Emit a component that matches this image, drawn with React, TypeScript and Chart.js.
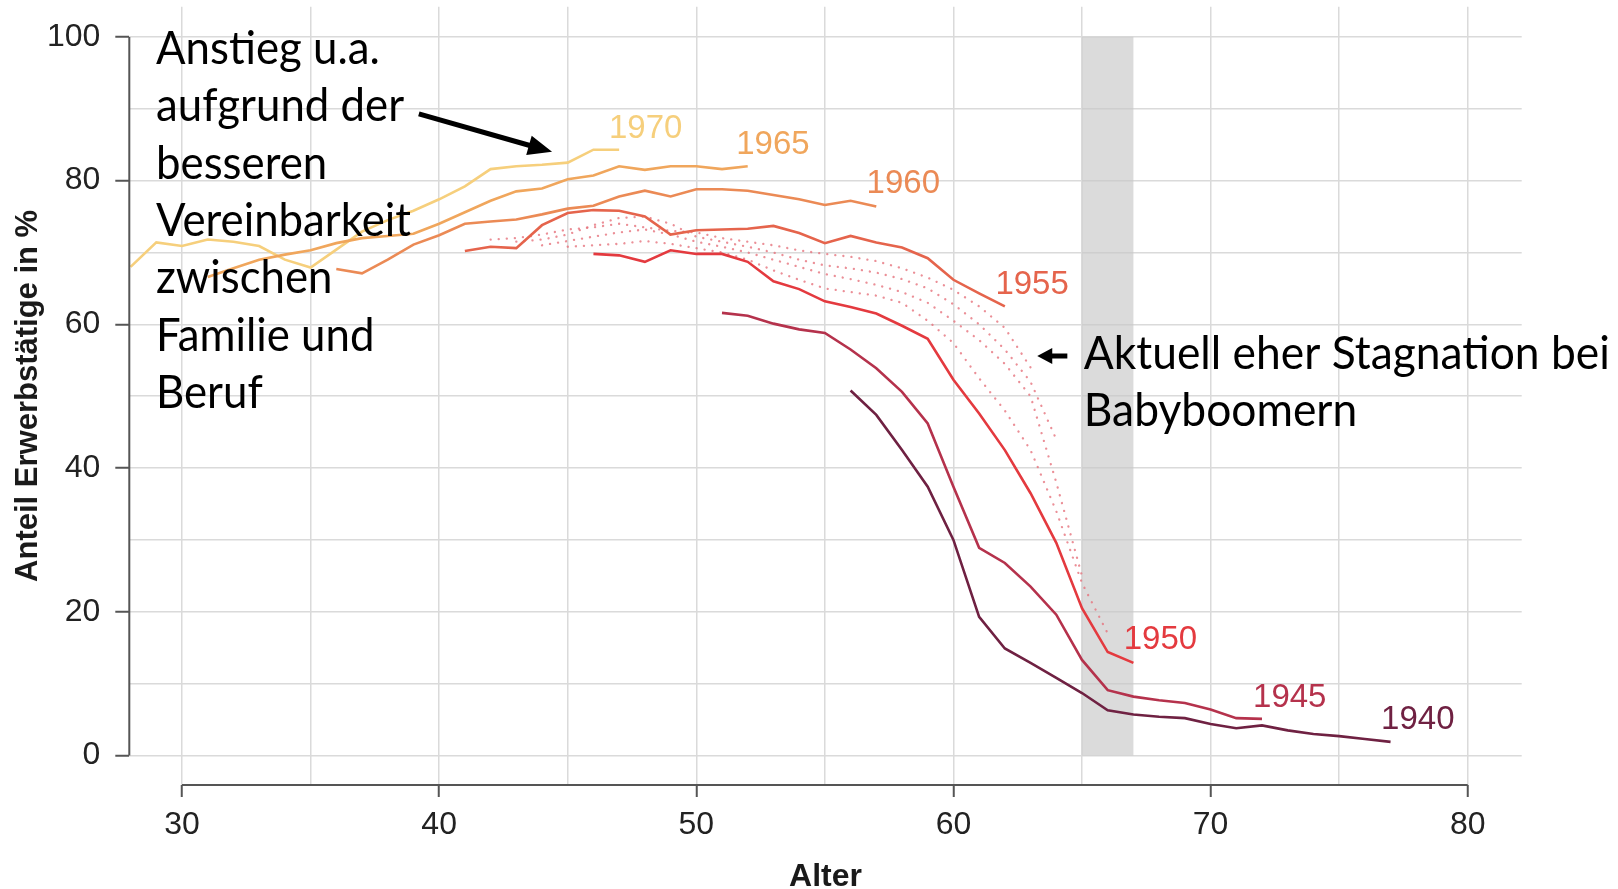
import React, { useEffect, useRef } from "react";
import { Chart, registerables } from "chart.js";

Chart.register(...registerables);

// ---- Daten: Anteil Erwerbstätige in % nach Alter, je Geburtsjahrgang ----
const startAge1940 = 56;
const values1940 = [50.8, 47.4, 42.5, 37.4, 30.0, 19.3, 14.9, 12.9, 10.8, 8.7, 6.3, 5.7, 5.4, 5.2, 4.4, 3.8, 4.2, 3.5, 3.0, 2.7, 2.3, 1.9];
const startAge1945 = 51;
const values1945 = [61.6, 61.2, 60.1, 59.3, 58.8, 56.5, 53.9, 50.6, 46.2, 37.4, 28.9, 26.8, 23.5, 19.6, 13.3, 9.1, 8.2, 7.7, 7.3, 6.4, 5.2, 5.1];
const startAge1950 = 46;
const values1950 = [69.8, 69.6, 68.7, 70.3, 69.8, 69.8, 68.7, 66.0, 64.9, 63.2, 62.4, 61.5, 59.8, 58.0, 52.3, 47.6, 42.5, 36.5, 29.6, 20.5, 14.4, 12.9];
const startAge1951 = 45;
const values1951 = [70.8, 71.0, 71.2, 71.6, 71.2, 70.6, 70.0, 69.0, 67.5, 66.2, 65.0, 64.5, 64.0, 63.0, 60.5, 57.4, 52.5, 48.0, 42.5, 34.0, 24.0, 17.0];
const startAge1952 = 44;
const values1952 = [71.0, 71.6, 72.2, 72.8, 73.2, 72.5, 71.5, 70.8, 70.0, 69.0, 68.0, 67.0, 66.3, 65.5, 64.5, 63.0, 60.5, 57.8, 54.5, 50.0, 38.0, 25.0];
const startAge1953 = 43;
const values1953 = [71.5, 71.8, 72.5, 73.8, 74.8, 75.0, 74.0, 72.2, 71.5, 70.8, 70.0, 69.0, 68.2, 67.8, 67.2, 66.3, 65.0, 62.8, 60.0, 56.5, 52.0, 44.0];
const startAge1954 = 42;
const values1954 = [71.8, 72.0, 72.5, 73.2, 73.5, 74.0, 73.5, 73.0, 72.8, 72.0, 71.5, 71.0, 70.3, 69.8, 69.4, 68.8, 67.8, 66.5, 64.8, 62.5, 59.5, 54.0];
const startAge1955 = 41;
const values1955 = [70.2, 70.8, 70.6, 73.8, 75.5, 75.9, 75.8, 75.0, 72.5, 73.1, 73.2, 73.3, 73.7, 72.7, 71.3, 72.3, 71.4, 70.7, 69.2, 66.2, 64.3, 62.5];
const startAge1960 = 36;
const values1960 = [67.7, 67.1, 69.0, 71.1, 72.4, 74.0, 74.3, 74.6, 75.3, 76.1, 76.5, 77.8, 78.6, 77.8, 78.8, 78.8, 78.6, 78.0, 77.4, 76.6, 77.2, 76.4];
const startAge1965 = 31;
const values1965 = [66.6, 67.8, 69.0, 69.7, 70.3, 71.3, 72.0, 72.3, 72.6, 74.0, 75.6, 77.2, 78.5, 78.9, 80.2, 80.7, 82.0, 81.5, 82.0, 82.0, 81.6, 82.0];
const startAge1970 = 28;
const values1970 = [68.0, 71.4, 70.9, 71.8, 71.5, 70.9, 69.0, 67.9, 70.4, 72.9, 74.5, 75.8, 77.4, 79.2, 81.6, 82.0, 82.2, 82.5, 84.3, 84.3];

// Achsen
const xGridValues = [30, 35, 40, 45, 50, 55, 60, 65, 70, 75, 80];
const xTickLabels = [30, 40, 50, 60, 70, 80];
const yGridValues = [0, 10, 20, 30, 40, 50, 60, 70, 80, 90, 100];
const yTickLabels = [0, 20, 40, 60, 80, 100];
const xTitle = "Alter";
const yTitle = "Anteil Erwerbstätige in %";

// Rentenalter-Band
const shadeFrom = 65;
const shadeTo = 67;

// Farben
const c1940 = "#6f2142";
const c1945 = "#b5324c";
const c1950 = "#e43a3f";
const c1955 = "#e5644c";
const c1960 = "#eb8a55";
const c1965 = "#f0a65c";
const c1970 = "#f6cf7c";
const cDotted = "rgba(230,115,125,0.8)";

// Beschriftungen der Linien (Datenkoordinaten der Textmitte)
const seriesLabels = [
  { text: "1970", x: 48.03, y: 87.6, color: c1970 },
  { text: "1965", x: 52.98, y: 85.3, color: c1965 },
  { text: "1960", x: 58.05, y: 79.9, color: c1960 },
  { text: "1955", x: 63.06, y: 65.8, color: c1955 },
  { text: "1950", x: 68.05, y: 16.4, color: c1950 },
  { text: "1945", x: 73.08, y: 8.4, color: c1945 },
  { text: "1940", x: 78.06, y: 5.3, color: c1940 },
];

const note1Lines = ["Anstieg u.a.", "aufgrund der", "besseren", "Vereinbarkeit", "zwischen", "Familie und", "Beruf"];
const note2Lines = ["Aktuell eher Stagnation bei", "Babyboomern"];

const TICK_FONT = "'Liberation Sans', Arial, Helvetica, sans-serif";
const NOTE_FONT = "Lato, 'Open Sans', sans-serif";
const gridColor = "#dadada";
const axisColor = "#555555";

function series(start: number, values: number[]) {
  return values.map((v, i) => ({ x: start + i, y: v }));
}

function solid(label: string, start: number, values: number[], color: string) {
  return {
    label,
    data: series(start, values),
    borderColor: color,
    borderWidth: 2.6,
    pointRadius: 0,
    fill: false,
    tension: 0,
  };
}

function dotted(label: string, start: number, values: number[]) {
  return {
    label,
    data: series(start, values),
    borderColor: cDotted,
    borderWidth: 2.3,
    borderDash: [0.1, 8],
    borderCapStyle: "round",
    pointRadius: 0,
    fill: false,
    tension: 0,
  };
}

function drawArrow(ctx: CanvasRenderingContext2D, x1: number, y1: number, x2: number, y2: number, shaftW: number, headLen: number, headHalf: number) {
  const ang = Math.atan2(y2 - y1, x2 - x1);
  const L = Math.hypot(x2 - x1, y2 - y1);
  ctx.save();
  ctx.translate(x2, y2);
  ctx.rotate(ang);
  ctx.beginPath();
  ctx.moveTo(0, 0);
  ctx.lineTo(-headLen, -headHalf);
  ctx.lineTo(-headLen, -shaftW / 2);
  ctx.lineTo(-L, -shaftW / 2);
  ctx.lineTo(-L, shaftW / 2);
  ctx.lineTo(-headLen, shaftW / 2);
  ctx.lineTo(-headLen, headHalf);
  ctx.closePath();
  ctx.fill();
  ctx.restore();
}

function drawNote(ctx: CanvasRenderingContext2D, lines: string[], x: number, y: number, step: number, size: number, refText: string, refWidth: number) {
  ctx.save();
  ctx.font = `${size}px ${NOTE_FONT}`;
  const w = ctx.measureText(refText).width;
  const sx = w > 0 ? refWidth / w : 1;
  ctx.fillStyle = "#000";
  ctx.textAlign = "left";
  ctx.textBaseline = "alphabetic";
  lines.forEach((t, i) => {
    ctx.save();
    ctx.translate(x, y + i * step);
    ctx.scale(sx, 1);
    ctx.fillText(t, 0, 0);
    ctx.restore();
  });
  ctx.restore();
}

const decorPlugin = {
  id: "decor",
  beforeDatasetsDraw(chart: any) {
    const { ctx, scales } = chart;
    const x = scales.x;
    const y = scales.y;
    ctx.save();
    ctx.fillStyle = "rgba(200,200,200,0.65)";
    const x1 = x.getPixelForValue(shadeFrom);
    const x2 = x.getPixelForValue(shadeTo);
    const y1 = y.getPixelForValue(100);
    const y2 = y.getPixelForValue(0);
    ctx.fillRect(x1, y1, x2 - x1, y2 - y1);
    ctx.restore();
  },
  afterDraw(chart: any) {
    const { ctx, scales, chartArea } = chart;
    const x = scales.x;
    const y = scales.y;
    ctx.save();
    // range-frame axis lines
    ctx.strokeStyle = axisColor;
    ctx.lineWidth = 2;
    ctx.beginPath();
    ctx.moveTo(chartArea.left, y.getPixelForValue(0));
    ctx.lineTo(chartArea.left, y.getPixelForValue(100));
    ctx.moveTo(x.getPixelForValue(30), chartArea.bottom);
    ctx.lineTo(x.getPixelForValue(80), chartArea.bottom);
    ctx.stroke();

    // axis titles
    ctx.fillStyle = "#1a1a1a";
    ctx.font = `bold 32px ${TICK_FONT}`;
    ctx.textAlign = "center";
    ctx.textBaseline = "middle";
    ctx.fillText(xTitle, (chartArea.left + chartArea.right) / 2, 877);
    ctx.font = `bold 31px ${TICK_FONT}`;
    ctx.save();
    ctx.translate(28, (chartArea.top + chartArea.bottom) / 2);
    ctx.rotate(-Math.PI / 2);
    ctx.fillText(yTitle, 0, 0);
    ctx.restore();

    // series labels
    ctx.font = `33px ${TICK_FONT}`;
    ctx.textAlign = "center";
    ctx.textBaseline = "alphabetic";
    seriesLabels.forEach((l) => {
      ctx.fillStyle = l.color;
      ctx.fillText(l.text, x.getPixelForValue(l.x), y.getPixelForValue(l.y) + 11.8);
    });

    // notes
    drawNote(ctx, note1Lines, x.getPixelForValue(28.99), y.getPixelForValue(96.2), 57.3, 46, "Vereinbarkeit", 255);
    drawNote(ctx, note2Lines, x.getPixelForValue(65.07), y.getPixelForValue(53.75), 56.6, 46, "Aktuell eher Stagnation bei", 526);

    // arrows
    ctx.fillStyle = "#000";
    drawArrow(ctx, x.getPixelForValue(39.21), y.getPixelForValue(89.3), x.getPixelForValue(44.39), y.getPixelForValue(84.0), 5, 24, 10);
    drawArrow(ctx, x.getPixelForValue(64.43), y.getPixelForValue(55.6), x.getPixelForValue(63.26), y.getPixelForValue(55.6), 5, 15, 8);
    ctx.restore();
  },
};

export default function App() {
  const ref = useRef<HTMLCanvasElement>(null);
  useEffect(() => {
    document.body.style.margin = "0";
    const canvas = ref.current as HTMLCanvasElement;
    const datasets: any[] = [
      solid("1940", startAge1940, values1940, c1940),
      solid("1945", startAge1945, values1945, c1945),
      solid("1950", startAge1950, values1950, c1950),
      solid("1955", startAge1955, values1955, c1955),
      solid("1960", startAge1960, values1960, c1960),
      solid("1965", startAge1965, values1965, c1965),
      solid("1970", startAge1970, values1970, c1970),
      dotted("1951", startAge1951, values1951),
      dotted("1952", startAge1952, values1952),
      dotted("1953", startAge1953, values1953),
      dotted("1954", startAge1954, values1954),
    ];
    const chart = new Chart(canvas, {
      type: "line",
      data: { datasets },
      options: {
        animation: false,
        responsive: false,
        devicePixelRatio: 1,
        layout: { padding: { left: 0, right: 96.3, top: 6.7, bottom: 0 } },
        plugins: { legend: { display: false }, tooltip: { enabled: false }, title: { display: false } },
        elements: { point: { radius: 0 } },
        scales: {
          x: {
            type: "linear",
            min: 27.95,
            max: 82.1,
            afterBuildTicks: (s: any) => {
              s.ticks = xGridValues.map((v) => ({ value: v }));
            },
            afterFit: (s: any) => {
              s.height = 104;
              s.paddingLeft = 0;
              s.paddingRight = 0;
            },
            border: { display: false },
            grid: {
              color: gridColor,
              lineWidth: 1.5,
              drawTicks: true,
              tickLength: 12,
              tickWidth: 2,
              tickColor: (c: any) => (c.tick && xTickLabels.includes(c.tick.value) ? axisColor : "rgba(0,0,0,0)"),
            },
            ticks: {
              autoSkip: false,
              maxRotation: 0,
              minRotation: 0,
              padding: 9,
              color: "#222",
              font: { family: TICK_FONT, size: 32 },
              callback: (v: any) => (xTickLabels.includes(Number(v)) ? String(v) : ""),
            },
          },
          y: {
            type: "linear",
            min: -4.1,
            max: 104.2,
            afterBuildTicks: (s: any) => {
              s.ticks = yGridValues.map((v) => ({ value: v }));
            },
            afterFit: (s: any) => {
              s.width = 129.3;
              s.paddingTop = 0;
              s.paddingBottom = 0;
            },
            border: { display: false },
            grid: {
              color: gridColor,
              lineWidth: 1.5,
              drawTicks: true,
              tickLength: 14,
              tickWidth: 2,
              tickColor: (c: any) => (c.tick && yTickLabels.includes(c.tick.value) ? axisColor : "rgba(0,0,0,0)"),
            },
            ticks: {
              autoSkip: false,
              padding: 15,
              color: "#222",
              font: { family: TICK_FONT, size: 32 },
              callback: (v: any) => (yTickLabels.includes(Number(v)) ? String(v) : ""),
            },
          },
        },
      } as any,
      plugins: [decorPlugin as any],
    });
    const fonts: any = (document as any).fonts;
    if (fonts && fonts.load) {
      Promise.all([fonts.load(`46px Lato`), fonts.load(`32px 'Liberation Sans'`), fonts.load(`bold 31px 'Liberation Sans'`)])
        .then(() => chart.draw())
        .catch(() => {});
    }
    return () => chart.destroy();
  }, []);
  return (
    <div style={{ width: 1618, height: 889, position: "relative", overflow: "hidden" }}>
      <canvas ref={ref} width={1618} height={889} style={{ display: "block", width: 1618, height: 889 }} />
    </div>
  );
}
